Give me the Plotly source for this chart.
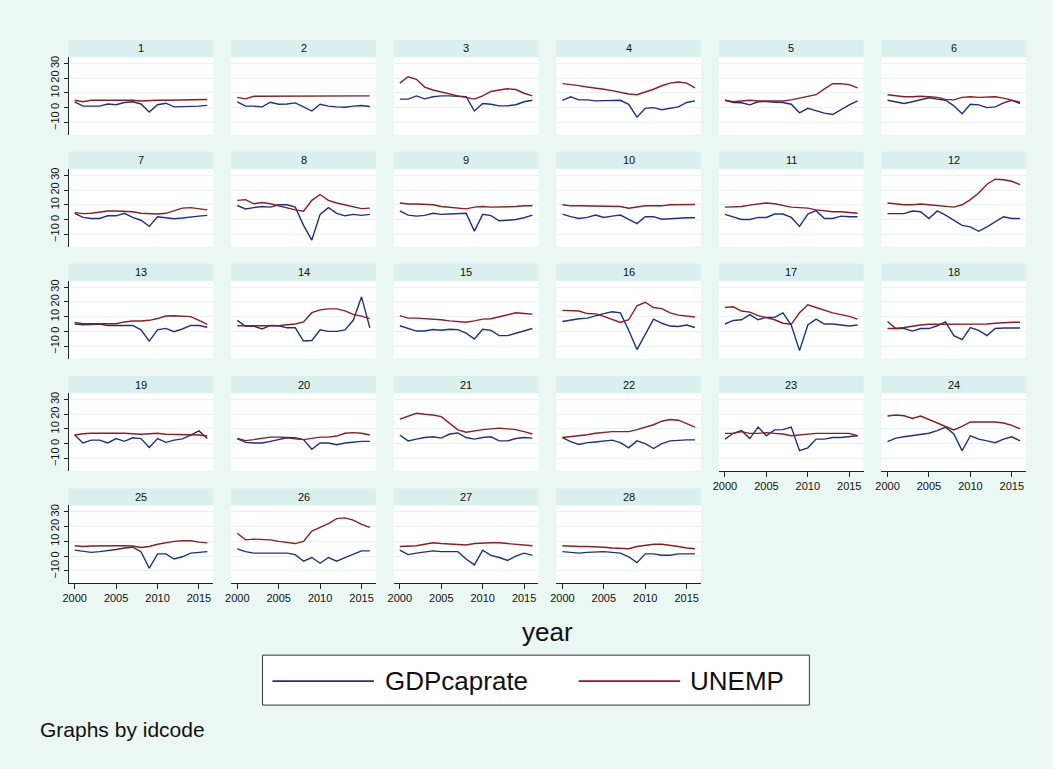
import plotly.graph_objects as go

# ---------------- data ----------------
years = list(range(2000, 2017))
idcodes = list(range(1, 29))
y_ticks = [-10, 0, 10, 20, 30]
x_ticks = [2000, 2005, 2010, 2015]
series_names = ["GDPcaprate", "UNEMP"]

gdp_caprate = [
    [4, 1, 1, 1, 2.5, 2, 3.5, 4, 2.5, -3, 2, 3, 0.5, 0.5, 0.5, 1, 1.5],            # 1
    [4, 1, 1, 0.5, 3.7, 2.3, 2.5, 3.2, 0.5, -2.3, 2.3, 1, 0.5, 0.3, 1, 1.4, 0.8],  # 2
    [5.8, 5.8, 8, 6, 7.4, 8, 8, 7.7, 7.4, -2.3, 2.8, 2.3, 1.2, 1.2, 2, 4, 5],      # 3
    [5, 7.4, 5.3, 5.3, 4.6, 4.6, 5, 5, 2.3, -6.5, -0.5, 0, -1.4, -0.5, 0.5, 3.5, 4.6],  # 4
    [5, 3.5, 3.3, 1.9, 4, 4.2, 3.7, 3.5, 2.3, -3.5, -0.5, -2.3, -3.7, -4.7, -1.2, 1.9, 4.6],  # 5
    [5, 4, 2.8, 4, 5.6, 6.7, 5.8, 5, 1.2, -4.2, 2.3, 1.9, 0, 0.5, 3.3, 5, 2.8],    # 6
    [4.2, 1.4, 0.7, 0.7, 2.5, 2.5, 4.2, 1.4, -0.5, -4.7, 1.9, 1.4, 0.5, 1, 1.4, 2.3, 2.8],  # 7
    [9.5, 7.2, 8.1, 8.8, 8.4, 10, 10, 8.4, -4, -14, 3.5, 8, 4.2, 2.5, 3.5, 2.8, 3.5],  # 8
    [5.8, 3, 2.3, 2.8, 4.2, 3.5, 3.7, 4.2, 4.2, -7.9, 3.5, 2.6, -0.9, -0.5, 0, 1.2, 3],  # 9
    [3.7, 1.9, 0.7, 1.4, 3, 1.4, 2.3, 3, 0, -2.8, 1.9, 1.9, 0.2, 0.7, 0.9, 1.2, 1.2],  # 10
    [3.5, 1.9, 0, 0, 1.4, 1.4, 3.7, 3.7, 1.4, -4.7, 3.7, 6, 0.7, 0.7, 2.3, 1.9, 1.9],  # 11
    [4, 4, 4, 5.8, 5.3, 0.7, 5.8, 3, -0.5, -4, -5, -8, -5, -1.6, 1.9, 0.7, 0.7],  # 12
    [5, 4.5, 4.7, 5, 4, 4, 4, 4, 1, -6.6, 1, 2, -0.2, 1.6, 4, 4, 2.8],             # 13
    [7.5, 3.5, 3.5, 1.6, 4, 3.8, 2.4, 2.4, -6.6, -6.2, 1, 0, 0, 1, 7.5, 23.5, 2.4],  # 14
    [3.8, 1.9, 0.2, 0.2, 1.2, 0.7, 1.4, 1.2, -1.2, -5.2, 1.4, 0.7, -2.9, -2.9, -1.2, 0.7, 1.9],  # 15
    [6.7, 7.9, 8.6, 9, 10.7, 12.1, 13.3, 12.6, 0.7, -12.4, -2.1, 8.3, 5.5, 3.6, 3.3, 4.3, 2.6],  # 16
    [5, 7.4, 7.9, 11.4, 7.9, 9.5, 9.5, 12.6, 4.3, -13.1, 4.3, 8.3, 5, 5, 4.3, 3.6, 4.3],  # 17
    [6.7, 1.9, 1.9, 0.2, 1.9, 1.9, 3.8, 6.4, -2.9, -5.7, 2.6, 0.7, -2.9, 1.9, 2.3, 2.3, 2.3],  # 18
    [5.9, 0.5, 2.4, 2.4, 0.5, 3.5, 1.6, 4, 3.5, -2.6, 3.5, 0.9, 2.4, 3.3, 5.9, 8.7, 3.5],  # 19
    [3.5, 0.9, 0.5, 0.5, 1.6, 2.8, 4, 3.3, 2.8, -3.8, 0.5, 0.5, -0.7, 0.5, 1.2, 1.6, 1.6],  # 20
    [5.9, 1.9, 3.1, 4.2, 4.7, 3.8, 6.6, 7.3, 4.2, 3.1, 4.2, 4.7, 1.9, 1.9, 3.5, 4.2, 3.8],  # 21
    [4.2, 1.4, -0.5, 0.7, 1.2, 1.9, 2.4, 0.7, -2.8, 1.9, 0, -3.3, 0, 1.9, 2.4, 2.6, 2.6],  # 22
    [3.1, 7.1, 8.9, 3.5, 11.3, 5.4, 9.4, 9.6, 11.3, -4.7, -2.8, 3.1, 3.1, 4.2, 4.2, 4.9, 5.4],  # 23
    [1.4, 3.8, 4.7, 5.4, 5.9, 7.1, 8.9, 11.3, 6.6, -4.7, 5.4, 3.1, 1.9, 0.7, 3.1, 4.7, 1.9],  # 24
    [4, 3, 2.5, 3, 3.5, 4.5, 5.5, 6, 3, -8.3, 1.5, 1.5, -2, -0.5, 2, 2.5, 3],      # 25
    [4.9, 3, 2, 2, 2, 2, 2, 1, -3.5, -1, -4.9, -1, -3.5, -1, 1.5, 3.5, 3.5],      # 26
    [4, 1, 2, 3, 3.5, 3, 3, 3, -2, -6, 4, 0.5, -1, -3, 0, 2, 0.5],                # 27
    [3, 2.5, 2, 2.5, 3, 3, 2.5, 2, -0.5, -4.5, 1.5, 1.5, 0.5, 0.5, 1.5, 1.5, 1.5], # 28
]

unemp = [
    [5, 4, 5, 5, 5.5, 5.5, 5.5, 5, 4.5, 5, 5, 5, 5, 5.5, 5.5, 5.5, 5.5],          # 1
    [7, 6, 7.7, 7.7, 8, 7.7, 7.7, 8, 7.7, 7.7, 8, 8, 7.7, 7.7, 8, 8, 8],          # 2
    [16.7, 21, 19.3, 14, 12, 10.5, 9.3, 8, 7, 5.8, 8, 11, 12, 12.8, 12.3, 9.8, 8],  # 3
    [16.3, 15.8, 15, 14, 13.5, 12.5, 11.6, 10.5, 9.3, 8.8, 10.5, 12.5, 14.9, 16.7, 17.4, 16.7, 13.5],  # 4
    [5, 4, 4.5, 5, 4.5, 4.5, 4.5, 4.5, 5.3, 6.5, 7.7, 8.8, 12.8, 16.3, 16.3, 15.6, 13.5],  # 5
    [8.8, 8, 7.4, 7.4, 7.7, 7.4, 7, 5.6, 5.3, 7, 7.4, 7, 7.4, 7.4, 6.5, 5, 3.7],  # 6
    [4.7, 4, 4.2, 5, 5.8, 5.8, 5.8, 5.3, 4.2, 4, 3.7, 4.2, 6, 7.7, 8.1, 7.4, 6.5],  # 7
    [13, 13.5, 10.7, 11.6, 10.7, 9.3, 7.7, 6.5, 5.6, 13, 17, 13, 11.2, 10, 8.8, 7.4, 7.7],  # 8
    [11.2, 10.5, 10.5, 10.5, 10, 8.8, 8.1, 7.7, 7.2, 8.4, 8.8, 8.4, 8.4, 8.6, 8.8, 9.3, 9.3],  # 9
    [10, 9.3, 9.3, 9.3, 9.3, 9.3, 9.3, 8.8, 7.7, 8.4, 9.3, 9.3, 9.3, 10, 10, 10.2, 10.2],  # 10
    [8.4, 8.4, 8.8, 9.8, 10.7, 11.2, 10.7, 9.5, 8.4, 8.1, 7.7, 6.5, 5.8, 5.3, 5.3, 4.9, 4.2],  # 11
    [11.2, 10.5, 10, 10, 10.5, 10, 9.5, 8.8, 8.4, 10, 13.5, 18, 24, 27.4, 27, 26, 23.7],  # 12
    [6.1, 5.2, 5.2, 5.2, 5.2, 5.2, 6.4, 7, 7, 7.5, 8.7, 10.4, 10.6, 10.4, 10, 7.5, 4.7],  # 13
    [3.8, 3.8, 3.8, 3.8, 3.8, 3.8, 4.5, 5, 6.4, 12.7, 14.6, 15.3, 15.3, 13.9, 11.5, 10.4, 8.7],  # 14
    [10.7, 9, 9, 8.8, 8.3, 7.9, 7.1, 6.4, 6.2, 7.1, 8.3, 8.6, 9.8, 11.4, 12.6, 12.1, 11.7],  # 15
    [14.3, 14.3, 13.8, 12.1, 11.9, 10.2, 7.9, 6, 7.9, 17.4, 19.8, 16.2, 15.5, 12.6, 11, 10.2, 9.8],  # 16
    [16.2, 16.7, 13.8, 13.1, 10.7, 9.5, 7.9, 5.5, 4.8, 12.6, 18.1, 16.2, 14.3, 12.6, 11.4, 10.2, 8.3],  # 17
    [1.9, 1.9, 2.6, 3.6, 4.3, 4.8, 4.8, 4.8, 4.8, 4.8, 4.8, 5, 5, 5.5, 6, 6.2, 6.2],  # 18
    [5.9, 6.8, 7.1, 7.1, 7.5, 7.1, 7.1, 6.8, 6.4, 6.8, 7.1, 6.4, 6.4, 6.4, 5.9, 5.9, 5.2],  # 19
    [3.5, 2.1, 2.8, 3.5, 4.5, 4.5, 4.5, 4, 2.8, 3.5, 4.5, 4.5, 5.2, 7.1, 7.5, 7.1, 5.9],  # 20
    [16.7, 18.8, 20.7, 20, 19.5, 18.4, 13.6, 9.4, 7.8, 8.9, 9.6, 10.1, 10.6, 10.1, 9.6, 8.2, 6.6],  # 21
    [4.2, 4.7, 5.4, 6.1, 7.1, 7.8, 8.2, 8.2, 8.2, 9.6, 11.3, 12.9, 15.3, 16.5, 16, 13.6, 11.3],  # 22
    [7, 7, 8.2, 7, 7, 7.5, 7, 6.6, 5.4, 6, 6.6, 7, 7, 7, 7, 7, 5.4],              # 23
    [18.8, 19.5, 19, 17.2, 18.8, 16.5, 14.1, 11.8, 9.4, 11.8, 14.8, 14.8, 14.8, 14.8, 14.1, 12.5, 10.1],  # 24
    [7, 6.5, 6.8, 7, 7, 7, 7, 6.8, 5.8, 6.5, 8, 9, 10, 10.4, 10.4, 9.5, 9],      # 25
    [15.5, 11, 11.5, 11.5, 11, 10, 9, 8.5, 10, 17, 19.5, 22, 25.5, 26, 24.5, 21.5, 19.5],  # 26
    [6.5, 6.5, 7, 8, 9, 8.5, 8, 7.5, 7.5, 8.5, 9, 9, 9, 8.5, 8.5, 8, 7],          # 27
    [7, 6.5, 6.5, 6.5, 6.5, 6, 5.5, 5, 5, 6.5, 7.5, 8, 8, 7.5, 6.5, 5.5, 5],     # 28
]

# ---------------- style / layout ----------------
W, H = 1053, 769
BG = "#EAF7F3"
STRIP = "#D9F0EE"
GRID = "#EAF3F3"
BLUE = "rgb(32,48,125)"
RED = "rgb(140,28,36)"
FONT = "Liberation Sans, Arial, sans-serif"

col_left = [63, 226.5, 390, 553.5, 717, 880.5]
panel_w = 145.5
row_top = [39, 151, 263, 375.5, 488]
strip_h = 17
plot_h = 78
x_range = [1999.27, 2016.73]
y_range = [-18.5, 34.5]


def px(x):
    return x / W


def py(y):
    return 1 - y / H


fig = go.Figure()
shapes = []
annotations = []

for i, code in enumerate(idcodes):
    r, c = divmod(i, 6)
    n = i + 1
    xa = "x" if n == 1 else f"x{n}"
    ya = "y" if n == 1 else f"y{n}"
    x0 = col_left[c]
    x1 = x0 + panel_w
    st = row_top[r]
    pt = st + strip_h
    pb = pt + plot_h
    show_x = i + 6 >= len(idcodes)
    show_y = c == 0

    fig.add_trace(go.Scatter(x=years, y=gdp_caprate[i], mode="lines",
                             line=dict(color=BLUE, width=1.4),
                             name=series_names[0], showlegend=False,
                             xaxis=xa, yaxis=ya))
    fig.add_trace(go.Scatter(x=years, y=unemp[i], mode="lines",
                             line=dict(color=RED, width=1.4),
                             name=series_names[1], showlegend=False,
                             xaxis=xa, yaxis=ya))

    xkey = "xaxis" if n == 1 else f"xaxis{n}"
    ykey = "yaxis" if n == 1 else f"yaxis{n}"
    fig.layout[xkey] = dict(
        domain=[px(x0), px(x1)], anchor=ya, range=x_range,
        tickvals=x_ticks, showgrid=False, zeroline=False,
        showticklabels=show_x, showline=show_x, linecolor="#222",
        linewidth=1, ticks="outside" if show_x else "", ticklen=5,
        tickcolor="#222", tickfont=dict(size=11, color="#111", family=FONT),
    )
    fig.layout[ykey] = dict(
        domain=[py(pb), py(pt)], anchor=xa, range=y_range,
        tickvals=y_ticks, showgrid=True, gridcolor=GRID, gridwidth=1,
        zeroline=False, showticklabels=show_y, showline=show_y,
        linecolor="#222", linewidth=1, ticks="outside" if show_y else "",
        ticklen=4, tickcolor="#222", tickangle=-90,
        tickfont=dict(size=11, color="#111", family=FONT),
    )

    # strip (by-title)
    shapes.append(dict(type="rect", xref="paper", yref="paper",
                       x0=px(x0), x1=px(x1), y0=py(pt), y1=py(st),
                       fillcolor=STRIP, line=dict(width=0), layer="below"))
    annotations.append(dict(text=str(code), xref="paper", yref="paper",
                            x=px((x0 + x1) / 2), y=py(st + strip_h / 2),
                            xanchor="center", yanchor="middle", showarrow=False,
                            font=dict(size=11, color="#111", family=FONT)))

# x-axis title
annotations.append(dict(text="year", xref="paper", yref="paper",
                        x=px(545), y=py(632), xanchor="center", yanchor="middle",
                        showarrow=False, font=dict(size=26, color="#111", family=FONT)))
# note
annotations.append(dict(text="Graphs by idcode", xref="paper", yref="paper",
                        x=px(32), y=py(729), xanchor="left", yanchor="middle",
                        showarrow=False, font=dict(size=21, color="#111", family=FONT)))

# legend box (drawn manually, Stata style)
shapes.append(dict(type="rect", xref="paper", yref="paper",
                   x0=px(258), x1=px(808), y0=py(705), y1=py(655),
                   fillcolor="white", line=dict(color="#333", width=1)))
shapes.append(dict(type="line", xref="paper", yref="paper",
                   x0=px(268), x1=px(370), y0=py(681), y1=py(681),
                   line=dict(color=BLUE, width=1.6)))
shapes.append(dict(type="line", xref="paper", yref="paper",
                   x0=px(576), x1=px(678), y0=py(681), y1=py(681),
                   line=dict(color=RED, width=1.6)))
annotations.append(dict(text=series_names[0], xref="paper", yref="paper",
                        x=px(379), y=py(681), xanchor="left", yanchor="middle",
                        showarrow=False, font=dict(size=26, color="#111", family=FONT)))
annotations.append(dict(text=series_names[1], xref="paper", yref="paper",
                        x=px(686), y=py(681), xanchor="left", yanchor="middle",
                        showarrow=False, font=dict(size=26, color="#111", family=FONT)))

fig.update_layout(
    width=W, height=H, margin=dict(l=0, r=0, t=0, b=0),
    paper_bgcolor=BG, plot_bgcolor="white", showlegend=False,
    shapes=shapes, annotations=annotations,
    font=dict(family=FONT),
)

fig.write_html("out.html", config={"displayModeBar": False},
               post_script="document.body.style.margin='0';"
                           "document.body.style.overflow='hidden';")
